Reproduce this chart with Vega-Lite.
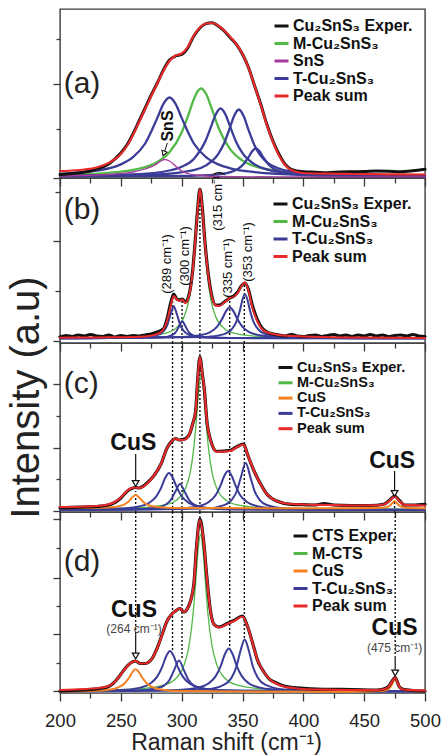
{
"$schema": "https://vega.github.io/schema/vega-lite/v6.json",
"bounds": "flush",
"spacing": 0,
"padding": {"left": 5, "top": 8, "right": 0, "bottom": 0},
"config": {
 "font": "Liberation Sans",
 "view": {"stroke": "#3a3a3a", "strokeWidth": 1.4},
 "axis": {"grid": false, "domain": false, "tickColor": "#3a3a3a", "tickWidth": 1.3, "labelFont": "Liberation Sans", "labelColor": "#222", "titleFont": "Liberation Sans", "titleColor": "#222", "titleFontWeight": "normal"},
 "legend": {"orient": "none", "symbolType": "stroke", "symbolStrokeWidth": 3, "symbolSize": 196, "labelFont": "Liberation Sans", "labelFontWeight": "bold", "labelFontSize": 16, "labelColor": "#111", "rowPadding": 0.5, "labelOffset": 3, "padding": 0, "labelLimit": 400},
 "line": {"strokeJoin": "round", "strokeCap": "round"}
},
"datasets": {
"a": [
{"s":"E","k":0,"x":200,"y":3.5},{"s":"E","k":0,"x":210,"y":4.5},{"s":"E","k":0,"x":220,"y":6},{"s":"E","k":0,"x":230,"y":9},{"s":"E","k":0,"x":240,"y":14},{"s":"E","k":0,"x":250,"y":25},{"s":"E","k":0,"x":255,"y":33},{"s":"E","k":0,"x":260,"y":44},{"s":"E","k":0,"x":265,"y":57},{"s":"E","k":0,"x":270,"y":70},{"s":"E","k":0,"x":275,"y":83},{"s":"E","k":0,"x":280,"y":95},{"s":"E","k":0,"x":285,"y":108},{"s":"E","k":0,"x":290,"y":118},{"s":"E","k":0,"x":295,"y":122},{"s":"E","k":0,"x":300,"y":123.5},{"s":"E","k":0,"x":305,"y":130},{"s":"E","k":0,"x":310,"y":142},{"s":"E","k":0,"x":315,"y":150},{"s":"E","k":0,"x":320,"y":154.3},{"s":"E","k":0,"x":325,"y":155.3},{"s":"E","k":0,"x":330,"y":152},{"s":"E","k":0,"x":335,"y":147},{"s":"E","k":0,"x":340,"y":140.3},{"s":"E","k":0,"x":345,"y":133.7},{"s":"E","k":0,"x":350,"y":123.7},{"s":"E","k":0,"x":355,"y":110.3},{"s":"E","k":0,"x":360,"y":92},{"s":"E","k":0,"x":365,"y":73.7},{"s":"E","k":0,"x":370,"y":53.7},{"s":"E","k":0,"x":375,"y":37},{"s":"E","k":0,"x":380,"y":23.7},{"s":"E","k":0,"x":385,"y":13.7},{"s":"E","k":0,"x":390,"y":8.7},{"s":"E","k":0,"x":400,"y":6.3},{"s":"E","k":0,"x":410,"y":5.8},{"s":"E","k":0,"x":420,"y":5.3},{"s":"E","k":0,"x":430,"y":6},{"s":"E","k":0,"x":440,"y":6.3},{"s":"E","k":0,"x":450,"y":6.5},{"s":"E","k":0,"x":460,"y":7},{"s":"E","k":0,"x":470,"y":6.8},{"s":"E","k":0,"x":480,"y":6.3},{"s":"E","k":0,"x":490,"y":7.2},{"s":"E","k":0,"x":500,"y":8.7},
{"s":"P","k":0,"x":200,"y":7},{"s":"P","k":0,"x":210,"y":7.5},{"s":"P","k":0,"x":220,"y":8.5},{"s":"P","k":0,"x":230,"y":10.5},{"s":"P","k":0,"x":240,"y":15},{"s":"P","k":0,"x":250,"y":24},{"s":"P","k":0,"x":255,"y":32},{"s":"P","k":0,"x":260,"y":43},{"s":"P","k":0,"x":265,"y":56},{"s":"P","k":0,"x":270,"y":69},{"s":"P","k":0,"x":275,"y":82},{"s":"P","k":0,"x":280,"y":94.5},{"s":"P","k":0,"x":285,"y":107},{"s":"P","k":0,"x":290,"y":117},{"s":"P","k":0,"x":295,"y":122.5},{"s":"P","k":0,"x":300,"y":124.5},{"s":"P","k":0,"x":305,"y":131},{"s":"P","k":0,"x":310,"y":142.5},{"s":"P","k":0,"x":315,"y":150.5},{"s":"P","k":0,"x":320,"y":154.5},{"s":"P","k":0,"x":325,"y":155},{"s":"P","k":0,"x":330,"y":152.5},{"s":"P","k":0,"x":335,"y":147.5},{"s":"P","k":0,"x":340,"y":141},{"s":"P","k":0,"x":345,"y":134},{"s":"P","k":0,"x":350,"y":124},{"s":"P","k":0,"x":355,"y":110},{"s":"P","k":0,"x":360,"y":92},{"s":"P","k":0,"x":365,"y":73},{"s":"P","k":0,"x":370,"y":53},{"s":"P","k":0,"x":375,"y":36},{"s":"P","k":0,"x":380,"y":22.5},{"s":"P","k":0,"x":385,"y":13},{"s":"P","k":0,"x":390,"y":8},{"s":"P","k":0,"x":400,"y":5},{"s":"P","k":0,"x":420,"y":4.3},{"s":"P","k":0,"x":440,"y":4},{"s":"P","k":0,"x":460,"y":3.8},{"s":"P","k":0,"x":480,"y":3.6},{"s":"P","k":0,"x":500,"y":3.5},
{"s":"M","k":1,"x":200,"y":3.1},{"s":"M","k":1,"x":240,"y":5.2},{"s":"M","k":1,"x":260,"y":8.1},{"s":"M","k":1,"x":280,"y":16},{"s":"M","k":1,"x":290,"y":25.7},{"s":"M","k":1,"x":300,"y":45.5},{"s":"M","k":1,"x":305,"y":61.3},{"s":"M","k":1,"x":310,"y":78.7},{"s":"M","k":1,"x":313,"y":86.5},{"s":"M","k":1,"x":316,"y":89.5},{"s":"M","k":1,"x":320,"y":84.3},{"s":"M","k":1,"x":325,"y":68.4},{"s":"M","k":1,"x":330,"y":51.3},{"s":"M","k":1,"x":340,"y":28.6},{"s":"M","k":1,"x":350,"y":17.4},{"s":"M","k":1,"x":360,"y":11.8},{"s":"M","k":1,"x":380,"y":6.7},{"s":"M","k":1,"x":400,"y":4.6},{"s":"M","k":1,"x":450,"y":2.7},{"s":"M","k":1,"x":500,"y":2.2},
{"s":"T","k":1,"x":200,"y":4.2},{"s":"T","k":1,"x":230,"y":7.3},{"s":"T","k":1,"x":250,"y":13.6},{"s":"T","k":1,"x":260,"y":20.8},{"s":"T","k":1,"x":270,"y":34.5},{"s":"T","k":1,"x":280,"y":60.1},{"s":"T","k":1,"x":285,"y":74.2},{"s":"T","k":1,"x":290,"y":80.5},{"s":"T","k":1,"x":295,"y":74.2},{"s":"T","k":1,"x":300,"y":60.1},{"s":"T","k":1,"x":310,"y":34.5},{"s":"T","k":1,"x":320,"y":20.8},{"s":"T","k":1,"x":330,"y":13.6},{"s":"T","k":1,"x":340,"y":9.7},{"s":"T","k":1,"x":360,"y":5.9},{"s":"T","k":1,"x":400,"y":3.3},{"s":"T","k":1,"x":500,"y":2},
{"s":"T","k":2,"x":200,"y":2.2},{"s":"T","k":2,"x":260,"y":3.6},{"s":"T","k":2,"x":290,"y":7.5},{"s":"T","k":2,"x":300,"y":11.2},{"s":"T","k":2,"x":310,"y":19.1},{"s":"T","k":2,"x":320,"y":38.2},{"s":"T","k":2,"x":325,"y":54.2},{"s":"T","k":2,"x":328,"y":63.5},{"s":"T","k":2,"x":332,"y":69.5},{"s":"T","k":2,"x":336,"y":63.5},{"s":"T","k":2,"x":340,"y":50.8},{"s":"T","k":2,"x":345,"y":35.5},{"s":"T","k":2,"x":350,"y":24.8},{"s":"T","k":2,"x":360,"y":13.6},{"s":"T","k":2,"x":370,"y":8.6},{"s":"T","k":2,"x":390,"y":4.7},{"s":"T","k":2,"x":430,"y":2.7},{"s":"T","k":2,"x":500,"y":1.9},
{"s":"T","k":3,"x":200,"y":2},{"s":"T","k":3,"x":280,"y":3.6},{"s":"T","k":3,"x":310,"y":7.8},{"s":"T","k":3,"x":320,"y":12.6},{"s":"T","k":3,"x":330,"y":23.8},{"s":"T","k":3,"x":335,"y":35},{"s":"T","k":3,"x":340,"y":51.5},{"s":"T","k":3,"x":343,"y":61.8},{"s":"T","k":3,"x":347,"y":68.5},{"s":"T","k":3,"x":351,"y":61.8},{"s":"T","k":3,"x":355,"y":47.9},{"s":"T","k":3,"x":360,"y":32.3},{"s":"T","k":3,"x":365,"y":22.1},{"s":"T","k":3,"x":370,"y":15.8},{"s":"T","k":3,"x":380,"y":9.3},{"s":"T","k":3,"x":400,"y":4.8},{"s":"T","k":3,"x":440,"y":2.6},{"s":"T","k":3,"x":500,"y":1.9},
{"s":"T","k":4,"x":200,"y":1.6},{"s":"T","k":4,"x":300,"y":2.1},{"s":"T","k":4,"x":330,"y":3.7},{"s":"T","k":4,"x":340,"y":5.8},{"s":"T","k":4,"x":350,"y":12.7},{"s":"T","k":4,"x":355,"y":20.9},{"s":"T","k":4,"x":358,"y":26.7},{"s":"T","k":4,"x":361,"y":29.5},{"s":"T","k":4,"x":364,"y":26.7},{"s":"T","k":4,"x":367,"y":20.9},{"s":"T","k":4,"x":372,"y":12.7},{"s":"T","k":4,"x":380,"y":6.6},{"s":"T","k":4,"x":392,"y":3.7},{"s":"T","k":4,"x":420,"y":2.1},{"s":"T","k":4,"x":500,"y":1.6},
{"s":"S","k":1,"x":200,"y":2},{"s":"S","k":1,"x":230,"y":3},{"s":"S","k":1,"x":250,"y":4.5},{"s":"S","k":1,"x":260,"y":6},{"s":"S","k":1,"x":270,"y":9},{"s":"S","k":1,"x":278,"y":13},{"s":"S","k":1,"x":283,"y":17},{"s":"S","k":1,"x":286,"y":18.5},{"s":"S","k":1,"x":290,"y":17},{"s":"S","k":1,"x":295,"y":12},{"s":"S","k":1,"x":300,"y":7},{"s":"S","k":1,"x":305,"y":4.5},{"s":"S","k":1,"x":315,"y":2.5},{"s":"S","k":1,"x":330,"y":1.5},{"s":"S","k":1,"x":400,"y":1},{"s":"S","k":1,"x":500,"y":1}
],
"b": [
{"s":"E","k":0,"x":200,"y":6},{"s":"E","k":0,"x":205,"y":7.5},{"s":"E","k":0,"x":210,"y":6.5},{"s":"E","k":0,"x":215,"y":8},{"s":"E","k":0,"x":220,"y":7},{"s":"E","k":0,"x":225,"y":8.5},{"s":"E","k":0,"x":230,"y":7},{"s":"E","k":0,"x":235,"y":6.5},{"s":"E","k":0,"x":240,"y":8},{"s":"E","k":0,"x":245,"y":6},{"s":"E","k":0,"x":250,"y":7.5},{"s":"E","k":0,"x":255,"y":6.5},{"s":"E","k":0,"x":260,"y":7.5},{"s":"E","k":0,"x":265,"y":7},{"s":"E","k":0,"x":270,"y":8},{"s":"E","k":0,"x":275,"y":9},{"s":"E","k":0,"x":280,"y":11},{"s":"E","k":0,"x":285,"y":14},{"s":"E","k":0,"x":288,"y":24},{"s":"E","k":0,"x":291,"y":40},{"s":"E","k":0,"x":293.5,"y":49},{"s":"E","k":0,"x":296,"y":44},{"s":"E","k":0,"x":298,"y":43},{"s":"E","k":0,"x":300.5,"y":44},{"s":"E","k":0,"x":303,"y":41},{"s":"E","k":0,"x":306,"y":48},{"s":"E","k":0,"x":309,"y":72},{"s":"E","k":0,"x":311,"y":100},{"s":"E","k":0,"x":313,"y":132},{"s":"E","k":0,"x":315,"y":154},{"s":"E","k":0,"x":317,"y":135},{"s":"E","k":0,"x":319,"y":103},{"s":"E","k":0,"x":321,"y":78},{"s":"E","k":0,"x":324,"y":52},{"s":"E","k":0,"x":328,"y":38},{"s":"E","k":0,"x":331,"y":38},{"s":"E","k":0,"x":335,"y":41},{"s":"E","k":0,"x":339.5,"y":45},{"s":"E","k":0,"x":343,"y":47},{"s":"E","k":0,"x":346,"y":51},{"s":"E","k":0,"x":349,"y":57},{"s":"E","k":0,"x":352,"y":60},{"s":"E","k":0,"x":355,"y":53},{"s":"E","k":0,"x":358,"y":38},{"s":"E","k":0,"x":362,"y":24},{"s":"E","k":0,"x":366,"y":15},{"s":"E","k":0,"x":372,"y":10},{"s":"E","k":0,"x":380,"y":8},{"s":"E","k":0,"x":385,"y":7},{"s":"E","k":0,"x":390,"y":8.5},{"s":"E","k":0,"x":395,"y":7},{"s":"E","k":0,"x":400,"y":6.5},{"s":"E","k":0,"x":405,"y":7.5},{"s":"E","k":0,"x":410,"y":8},{"s":"E","k":0,"x":415,"y":6.5},{"s":"E","k":0,"x":420,"y":7.5},{"s":"E","k":0,"x":425,"y":8.5},{"s":"E","k":0,"x":430,"y":7},{"s":"E","k":0,"x":435,"y":8},{"s":"E","k":0,"x":440,"y":6.5},{"s":"E","k":0,"x":445,"y":8},{"s":"E","k":0,"x":450,"y":7},{"s":"E","k":0,"x":455,"y":8.5},{"s":"E","k":0,"x":460,"y":7},{"s":"E","k":0,"x":465,"y":8},{"s":"E","k":0,"x":470,"y":6.5},{"s":"E","k":0,"x":475,"y":7.5},{"s":"E","k":0,"x":480,"y":8},{"s":"E","k":0,"x":485,"y":7},{"s":"E","k":0,"x":490,"y":8.5},{"s":"E","k":0,"x":495,"y":7},{"s":"E","k":0,"x":500,"y":6.5},
{"s":"P","k":0,"x":200,"y":5.3},{"s":"P","k":0,"x":220,"y":5.5},{"s":"P","k":0,"x":240,"y":5.7},{"s":"P","k":0,"x":260,"y":6},{"s":"P","k":0,"x":270,"y":6.5},{"s":"P","k":0,"x":280,"y":9},{"s":"P","k":0,"x":285,"y":13.5},{"s":"P","k":0,"x":288,"y":22},{"s":"P","k":0,"x":291,"y":37},{"s":"P","k":0,"x":293.5,"y":47},{"s":"P","k":0,"x":296,"y":43.5},{"s":"P","k":0,"x":298,"y":42},{"s":"P","k":0,"x":300.5,"y":43.5},{"s":"P","k":0,"x":303,"y":40},{"s":"P","k":0,"x":306,"y":47},{"s":"P","k":0,"x":309,"y":71},{"s":"P","k":0,"x":311,"y":99},{"s":"P","k":0,"x":313,"y":131},{"s":"P","k":0,"x":315,"y":154},{"s":"P","k":0,"x":317,"y":134},{"s":"P","k":0,"x":319,"y":102},{"s":"P","k":0,"x":321,"y":77},{"s":"P","k":0,"x":324,"y":51},{"s":"P","k":0,"x":328,"y":37.5},{"s":"P","k":0,"x":331,"y":37},{"s":"P","k":0,"x":335,"y":40.5},{"s":"P","k":0,"x":339.5,"y":45},{"s":"P","k":0,"x":343,"y":46.5},{"s":"P","k":0,"x":346,"y":50},{"s":"P","k":0,"x":349,"y":56.5},{"s":"P","k":0,"x":352,"y":60.5},{"s":"P","k":0,"x":355,"y":52},{"s":"P","k":0,"x":358,"y":36},{"s":"P","k":0,"x":362,"y":22},{"s":"P","k":0,"x":366,"y":14},{"s":"P","k":0,"x":372,"y":10},{"s":"P","k":0,"x":380,"y":8},{"s":"P","k":0,"x":400,"y":6.5},{"s":"P","k":0,"x":440,"y":5.5},{"s":"P","k":0,"x":500,"y":5},
{"s":"M","k":1,"x":200,"y":5},{"s":"M","k":1,"x":250,"y":5.7},{"s":"M","k":1,"x":270,"y":6.8},{"s":"M","k":1,"x":285,"y":9.3},{"s":"M","k":1,"x":295,"y":14.6},{"s":"M","k":1,"x":302,"y":26.3},{"s":"M","k":1,"x":306,"y":43.2},{"s":"M","k":1,"x":309,"y":69.6},{"s":"M","k":1,"x":311,"y":97.6},{"s":"M","k":1,"x":313,"y":130.1},{"s":"M","k":1,"x":315,"y":146.7},{"s":"M","k":1,"x":317,"y":130.1},{"s":"M","k":1,"x":319,"y":97.6},{"s":"M","k":1,"x":321,"y":69.6},{"s":"M","k":1,"x":324,"y":43.2},{"s":"M","k":1,"x":328,"y":26.3},{"s":"M","k":1,"x":335,"y":14.6},{"s":"M","k":1,"x":345,"y":9.3},{"s":"M","k":1,"x":360,"y":6.8},{"s":"M","k":1,"x":380,"y":5.7},{"s":"M","k":1,"x":430,"y":5},{"s":"M","k":1,"x":500,"y":4.8},
{"s":"T","k":1,"x":200,"y":4.7},{"s":"T","k":1,"x":270,"y":5.8},{"s":"T","k":1,"x":280,"y":7.9},{"s":"T","k":1,"x":285,"y":11.7},{"s":"T","k":1,"x":288,"y":17.5},{"s":"T","k":1,"x":291,"y":29},{"s":"T","k":1,"x":293.5,"y":36.7},{"s":"T","k":1,"x":296,"y":29},{"s":"T","k":1,"x":299,"y":17.5},{"s":"T","k":1,"x":302,"y":11.7},{"s":"T","k":1,"x":307,"y":7.9},{"s":"T","k":1,"x":317,"y":5.8},{"s":"T","k":1,"x":340,"y":5},{"s":"T","k":1,"x":500,"y":4.7},
{"s":"T","k":2,"x":200,"y":4.7},{"s":"T","k":2,"x":285,"y":5.7},{"s":"T","k":2,"x":292,"y":7.8},{"s":"T","k":2,"x":295,"y":10.6},{"s":"T","k":2,"x":298,"y":16.9},{"s":"T","k":2,"x":300.5,"y":21.7},{"s":"T","k":2,"x":303,"y":16.9},{"s":"T","k":2,"x":306,"y":10.6},{"s":"T","k":2,"x":309,"y":7.8},{"s":"T","k":2,"x":316,"y":5.7},{"s":"T","k":2,"x":340,"y":4.9},{"s":"T","k":2,"x":500,"y":4.7},
{"s":"T","k":3,"x":200,"y":4.8},{"s":"T","k":3,"x":300,"y":5.9},{"s":"T","k":3,"x":315,"y":7.7},{"s":"T","k":3,"x":323,"y":10.6},{"s":"T","k":3,"x":329,"y":16.1},{"s":"T","k":3,"x":333,"y":23.4},{"s":"T","k":3,"x":336.5,"y":31.9},{"s":"T","k":3,"x":339.5,"y":35.7},{"s":"T","k":3,"x":342.5,"y":31.9},{"s":"T","k":3,"x":346,"y":23.4},{"s":"T","k":3,"x":350,"y":16.1},{"s":"T","k":3,"x":356,"y":10.6},{"s":"T","k":3,"x":364,"y":7.7},{"s":"T","k":3,"x":380,"y":5.9},{"s":"T","k":3,"x":420,"y":5},{"s":"T","k":3,"x":500,"y":4.8},
{"s":"T","k":4,"x":200,"y":4.7},{"s":"T","k":4,"x":320,"y":6},{"s":"T","k":4,"x":335,"y":8.9},{"s":"T","k":4,"x":341,"y":13.5},{"s":"T","k":4,"x":345,"y":21.4},{"s":"T","k":4,"x":348,"y":33.3},{"s":"T","k":4,"x":350,"y":43.5},{"s":"T","k":4,"x":352,"y":48.7},{"s":"T","k":4,"x":354,"y":43.5},{"s":"T","k":4,"x":356,"y":33.3},{"s":"T","k":4,"x":359,"y":21.4},{"s":"T","k":4,"x":363,"y":13.5},{"s":"T","k":4,"x":369,"y":8.9},{"s":"T","k":4,"x":384,"y":6},{"s":"T","k":4,"x":420,"y":5},{"s":"T","k":4,"x":500,"y":4.7}
],
"c": [
{"s":"E","k":0,"x":200,"y":4.3},{"s":"E","k":0,"x":210,"y":4.6},{"s":"E","k":0,"x":220,"y":5},{"s":"E","k":0,"x":230,"y":5.5},{"s":"E","k":0,"x":240,"y":7},{"s":"E","k":0,"x":245,"y":9.5},{"s":"E","k":0,"x":250,"y":14},{"s":"E","k":0,"x":253,"y":18},{"s":"E","k":0,"x":256,"y":21.5},{"s":"E","k":0,"x":259,"y":23.5},{"s":"E","k":0,"x":262,"y":24.5},{"s":"E","k":0,"x":265,"y":24},{"s":"E","k":0,"x":268,"y":25.5},{"s":"E","k":0,"x":272,"y":29.5},{"s":"E","k":0,"x":277,"y":36},{"s":"E","k":0,"x":283,"y":48},{"s":"E","k":0,"x":288,"y":64},{"s":"E","k":0,"x":292,"y":71},{"s":"E","k":0,"x":295,"y":73.5},{"s":"E","k":0,"x":298,"y":72},{"s":"E","k":0,"x":301,"y":72.5},{"s":"E","k":0,"x":304,"y":74},{"s":"E","k":0,"x":306.5,"y":78},{"s":"E","k":0,"x":309,"y":88},{"s":"E","k":0,"x":311.5,"y":101},{"s":"E","k":0,"x":313,"y":130},{"s":"E","k":0,"x":315,"y":155},{"s":"E","k":0,"x":317,"y":138},{"s":"E","k":0,"x":318.5,"y":124},{"s":"E","k":0,"x":321,"y":88},{"s":"E","k":0,"x":324,"y":71},{"s":"E","k":0,"x":326.5,"y":63},{"s":"E","k":0,"x":329,"y":60.5},{"s":"E","k":0,"x":335,"y":61},{"s":"E","k":0,"x":340,"y":61.7},{"s":"E","k":0,"x":345,"y":65},{"s":"E","k":0,"x":351,"y":68},{"s":"E","k":0,"x":354,"y":58},{"s":"E","k":0,"x":359.5,"y":41},{"s":"E","k":0,"x":365,"y":27.7},{"s":"E","k":0,"x":370,"y":18},{"s":"E","k":0,"x":378,"y":11},{"s":"E","k":0,"x":390,"y":7.7},{"s":"E","k":0,"x":400,"y":7.3},{"s":"E","k":0,"x":410,"y":7},{"s":"E","k":0,"x":417,"y":8.5},{"s":"E","k":0,"x":425,"y":7},{"s":"E","k":0,"x":440,"y":6.5},{"s":"E","k":0,"x":455,"y":6.5},{"s":"E","k":0,"x":466,"y":7.7},{"s":"E","k":0,"x":471,"y":12},{"s":"E","k":0,"x":475,"y":16},{"s":"E","k":0,"x":479,"y":11.5},{"s":"E","k":0,"x":483,"y":7},{"s":"E","k":0,"x":490,"y":7},{"s":"E","k":0,"x":500,"y":7.7},
{"s":"P","k":0,"x":200,"y":5},{"s":"P","k":0,"x":220,"y":5.5},{"s":"P","k":0,"x":235,"y":6.5},{"s":"P","k":0,"x":245,"y":10},{"s":"P","k":0,"x":250,"y":14.5},{"s":"P","k":0,"x":253,"y":18.5},{"s":"P","k":0,"x":256,"y":22},{"s":"P","k":0,"x":259,"y":24},{"s":"P","k":0,"x":262,"y":24.5},{"s":"P","k":0,"x":265,"y":24},{"s":"P","k":0,"x":268,"y":25},{"s":"P","k":0,"x":272,"y":29},{"s":"P","k":0,"x":277,"y":36},{"s":"P","k":0,"x":283,"y":48},{"s":"P","k":0,"x":288,"y":64},{"s":"P","k":0,"x":292,"y":71},{"s":"P","k":0,"x":295,"y":73.5},{"s":"P","k":0,"x":298,"y":72},{"s":"P","k":0,"x":301,"y":72},{"s":"P","k":0,"x":304,"y":73.5},{"s":"P","k":0,"x":306.5,"y":78},{"s":"P","k":0,"x":309,"y":88},{"s":"P","k":0,"x":311.5,"y":101},{"s":"P","k":0,"x":313,"y":130},{"s":"P","k":0,"x":315,"y":155},{"s":"P","k":0,"x":317,"y":138},{"s":"P","k":0,"x":318.5,"y":124},{"s":"P","k":0,"x":321,"y":88},{"s":"P","k":0,"x":324,"y":71},{"s":"P","k":0,"x":326.5,"y":63},{"s":"P","k":0,"x":329,"y":60},{"s":"P","k":0,"x":335,"y":60.5},{"s":"P","k":0,"x":340,"y":61},{"s":"P","k":0,"x":345,"y":64.5},{"s":"P","k":0,"x":351,"y":67.5},{"s":"P","k":0,"x":354,"y":58},{"s":"P","k":0,"x":359.5,"y":41},{"s":"P","k":0,"x":365,"y":27.5},{"s":"P","k":0,"x":370,"y":18},{"s":"P","k":0,"x":378,"y":11},{"s":"P","k":0,"x":390,"y":8},{"s":"P","k":0,"x":400,"y":7.5},{"s":"P","k":0,"x":420,"y":7},{"s":"P","k":0,"x":440,"y":6.5},{"s":"P","k":0,"x":460,"y":6.7},{"s":"P","k":0,"x":466,"y":7.5},{"s":"P","k":0,"x":471,"y":11.5},{"s":"P","k":0,"x":475,"y":15.5},{"s":"P","k":0,"x":479,"y":11},{"s":"P","k":0,"x":483,"y":7.2},{"s":"P","k":0,"x":490,"y":6.8},{"s":"P","k":0,"x":500,"y":6.5},
{"s":"M","k":1,"x":200,"y":3},{"s":"M","k":1,"x":250,"y":3.6},{"s":"M","k":1,"x":270,"y":4.6},{"s":"M","k":1,"x":285,"y":6.8},{"s":"M","k":1,"x":295,"y":11.3},{"s":"M","k":1,"x":303,"y":23.2},{"s":"M","k":1,"x":307,"y":39.3},{"s":"M","k":1,"x":310,"y":64.4},{"s":"M","k":1,"x":312,"y":91},{"s":"M","k":1,"x":314,"y":121.9},{"s":"M","k":1,"x":316,"y":137.7},{"s":"M","k":1,"x":318,"y":121.9},{"s":"M","k":1,"x":320,"y":91},{"s":"M","k":1,"x":322,"y":64.4},{"s":"M","k":1,"x":325,"y":39.3},{"s":"M","k":1,"x":329,"y":23.2},{"s":"M","k":1,"x":337,"y":11.3},{"s":"M","k":1,"x":347,"y":6.8},{"s":"M","k":1,"x":362,"y":4.6},{"s":"M","k":1,"x":382,"y":3.6},{"s":"M","k":1,"x":430,"y":3},{"s":"M","k":1,"x":500,"y":2.9},
{"s":"T","k":1,"x":200,"y":2.3},{"s":"T","k":1,"x":250,"y":3.4},{"s":"T","k":1,"x":265,"y":5.5},{"s":"T","k":1,"x":273,"y":9},{"s":"T","k":1,"x":279,"y":15.3},{"s":"T","k":1,"x":283,"y":23.9},{"s":"T","k":1,"x":286.6,"y":34.4},{"s":"T","k":1,"x":289.6,"y":39},{"s":"T","k":1,"x":292.6,"y":34.4},{"s":"T","k":1,"x":296,"y":24.6},{"s":"T","k":1,"x":300,"y":15.8},{"s":"T","k":1,"x":306,"y":9.1},{"s":"T","k":1,"x":314,"y":5.6},{"s":"T","k":1,"x":330,"y":3.4},{"s":"T","k":1,"x":380,"y":2.4},{"s":"T","k":1,"x":500,"y":2.1},
{"s":"T","k":2,"x":200,"y":2.1},{"s":"T","k":2,"x":260,"y":2.6},{"s":"T","k":2,"x":280,"y":4.4},{"s":"T","k":2,"x":287,"y":7.5},{"s":"T","k":2,"x":291,"y":12},{"s":"T","k":2,"x":294.5,"y":19.7},{"s":"T","k":2,"x":298.6,"y":28},{"s":"T","k":2,"x":302.7,"y":19.7},{"s":"T","k":2,"x":306,"y":12.3},{"s":"T","k":2,"x":310,"y":7.6},{"s":"T","k":2,"x":318,"y":4.3},{"s":"T","k":2,"x":340,"y":2.5},{"s":"T","k":2,"x":500,"y":2},
{"s":"T","k":3,"x":200,"y":2.1},{"s":"T","k":3,"x":290,"y":3.1},{"s":"T","k":3,"x":305,"y":4.1},{"s":"T","k":3,"x":314,"y":5.9},{"s":"T","k":3,"x":322,"y":9.7},{"s":"T","k":3,"x":328,"y":17},{"s":"T","k":3,"x":332,"y":26.7},{"s":"T","k":3,"x":335.1,"y":36.2},{"s":"T","k":3,"x":338.1,"y":41},{"s":"T","k":3,"x":341.1,"y":36.2},{"s":"T","k":3,"x":344.2,"y":26.7},{"s":"T","k":3,"x":348,"y":17},{"s":"T","k":3,"x":354,"y":9.7},{"s":"T","k":3,"x":362,"y":5.9},{"s":"T","k":3,"x":375,"y":3.8},{"s":"T","k":3,"x":400,"y":2.6},{"s":"T","k":3,"x":500,"y":2.1},
{"s":"T","k":4,"x":200,"y":2},{"s":"T","k":4,"x":320,"y":3.5},{"s":"T","k":4,"x":335,"y":6.9},{"s":"T","k":4,"x":341,"y":11.9},{"s":"T","k":4,"x":345,"y":20},{"s":"T","k":4,"x":348.5,"y":34},{"s":"T","k":4,"x":352.6,"y":49},{"s":"T","k":4,"x":356.7,"y":34},{"s":"T","k":4,"x":360,"y":20.7},{"s":"T","k":4,"x":364,"y":12.2},{"s":"T","k":4,"x":370,"y":7},{"s":"T","k":4,"x":385,"y":3.5},{"s":"T","k":4,"x":420,"y":2.4},{"s":"T","k":4,"x":500,"y":2},
{"s":"C","k":1,"x":200,"y":3.8},{"s":"C","k":1,"x":230,"y":4.2},{"s":"C","k":1,"x":245,"y":5.1},{"s":"C","k":1,"x":252,"y":7.1},{"s":"C","k":1,"x":256,"y":10.1},{"s":"C","k":1,"x":259.5,"y":14.7},{"s":"C","k":1,"x":262.2,"y":17},{"s":"C","k":1,"x":265,"y":14.6},{"s":"C","k":1,"x":268.5,"y":10},{"s":"C","k":1,"x":273,"y":6.8},{"s":"C","k":1,"x":280,"y":5.1},{"s":"C","k":1,"x":295,"y":4.1},{"s":"C","k":1,"x":330,"y":3.9},{"s":"C","k":1,"x":400,"y":3.7},{"s":"C","k":1,"x":460,"y":4},{"s":"C","k":1,"x":468,"y":4.8},{"s":"C","k":1,"x":471,"y":6.3},{"s":"C","k":1,"x":473,"y":8.7},{"s":"C","k":1,"x":475,"y":11},{"s":"C","k":1,"x":477,"y":8.7},{"s":"C","k":1,"x":479,"y":6.3},{"s":"C","k":1,"x":482,"y":4.8},{"s":"C","k":1,"x":490,"y":4},{"s":"C","k":1,"x":500,"y":3.8}
],
"d": [
{"s":"E","k":0,"x":200,"y":2},{"s":"E","k":0,"x":220,"y":3},{"s":"E","k":0,"x":235,"y":5},{"s":"E","k":0,"x":240,"y":6.5},{"s":"E","k":0,"x":244,"y":10},{"s":"E","k":0,"x":247,"y":14},{"s":"E","k":0,"x":250,"y":18.7},{"s":"E","k":0,"x":254,"y":25.3},{"s":"E","k":0,"x":258,"y":30},{"s":"E","k":0,"x":262,"y":32},{"s":"E","k":0,"x":266,"y":29.5},{"s":"E","k":0,"x":270,"y":29.5},{"s":"E","k":0,"x":273,"y":31},{"s":"E","k":0,"x":276,"y":35},{"s":"E","k":0,"x":280,"y":45.3},{"s":"E","k":0,"x":284,"y":58.7},{"s":"E","k":0,"x":288,"y":72},{"s":"E","k":0,"x":292,"y":79},{"s":"E","k":0,"x":295,"y":82},{"s":"E","k":0,"x":298.5,"y":84.5},{"s":"E","k":0,"x":302,"y":81},{"s":"E","k":0,"x":305,"y":85},{"s":"E","k":0,"x":307.5,"y":93},{"s":"E","k":0,"x":310,"y":109},{"s":"E","k":0,"x":312.3,"y":148},{"s":"E","k":0,"x":315,"y":174},{"s":"E","k":0,"x":317.8,"y":155},{"s":"E","k":0,"x":320.5,"y":118.7},{"s":"E","k":0,"x":323.3,"y":85.3},{"s":"E","k":0,"x":326.6,"y":68.7},{"s":"E","k":0,"x":330.7,"y":66},{"s":"E","k":0,"x":337.5,"y":69.5},{"s":"E","k":0,"x":343,"y":72.5},{"s":"E","k":0,"x":350,"y":77},{"s":"E","k":0,"x":354,"y":67},{"s":"E","k":0,"x":359.4,"y":45.3},{"s":"E","k":0,"x":362,"y":34},{"s":"E","k":0,"x":367.6,"y":21},{"s":"E","k":0,"x":373,"y":13},{"s":"E","k":0,"x":376,"y":11},{"s":"E","k":0,"x":384,"y":7},{"s":"E","k":0,"x":392,"y":5.3},{"s":"E","k":0,"x":400,"y":4.7},{"s":"E","k":0,"x":420,"y":3.7},{"s":"E","k":0,"x":440,"y":3.5},{"s":"E","k":0,"x":460,"y":3},{"s":"E","k":0,"x":466,"y":4},{"s":"E","k":0,"x":470,"y":6.5},{"s":"E","k":0,"x":475.5,"y":15.5},{"s":"E","k":0,"x":479,"y":6},{"s":"E","k":0,"x":482,"y":3.7},{"s":"E","k":0,"x":490,"y":2.5},{"s":"E","k":0,"x":500,"y":2},
{"s":"P","k":0,"x":200,"y":3},{"s":"P","k":0,"x":220,"y":4},{"s":"P","k":0,"x":235,"y":5.5},{"s":"P","k":0,"x":240,"y":7},{"s":"P","k":0,"x":244,"y":10},{"s":"P","k":0,"x":247,"y":14},{"s":"P","k":0,"x":250,"y":18.5},{"s":"P","k":0,"x":254,"y":25},{"s":"P","k":0,"x":258,"y":30},{"s":"P","k":0,"x":262,"y":32},{"s":"P","k":0,"x":266,"y":29.5},{"s":"P","k":0,"x":270,"y":29.5},{"s":"P","k":0,"x":273,"y":31},{"s":"P","k":0,"x":276,"y":35},{"s":"P","k":0,"x":280,"y":45},{"s":"P","k":0,"x":284,"y":58.5},{"s":"P","k":0,"x":288,"y":72},{"s":"P","k":0,"x":292,"y":79},{"s":"P","k":0,"x":295,"y":82},{"s":"P","k":0,"x":298.5,"y":84.5},{"s":"P","k":0,"x":302,"y":81},{"s":"P","k":0,"x":305,"y":85},{"s":"P","k":0,"x":307.5,"y":93},{"s":"P","k":0,"x":310,"y":109},{"s":"P","k":0,"x":312.3,"y":148},{"s":"P","k":0,"x":315,"y":173},{"s":"P","k":0,"x":317.8,"y":155},{"s":"P","k":0,"x":320.5,"y":118.5},{"s":"P","k":0,"x":323.3,"y":85},{"s":"P","k":0,"x":326.6,"y":68.5},{"s":"P","k":0,"x":330.7,"y":65.5},{"s":"P","k":0,"x":337.5,"y":69},{"s":"P","k":0,"x":343,"y":72},{"s":"P","k":0,"x":350,"y":76.5},{"s":"P","k":0,"x":354,"y":67},{"s":"P","k":0,"x":359.4,"y":45},{"s":"P","k":0,"x":362,"y":34},{"s":"P","k":0,"x":367.6,"y":21},{"s":"P","k":0,"x":373,"y":13},{"s":"P","k":0,"x":376,"y":10.5},{"s":"P","k":0,"x":384,"y":6.5},{"s":"P","k":0,"x":392,"y":5},{"s":"P","k":0,"x":400,"y":4},{"s":"P","k":0,"x":420,"y":3.3},{"s":"P","k":0,"x":440,"y":3},{"s":"P","k":0,"x":460,"y":3},{"s":"P","k":0,"x":466,"y":3.8},{"s":"P","k":0,"x":470,"y":6},{"s":"P","k":0,"x":475.5,"y":15},{"s":"P","k":0,"x":479,"y":6},{"s":"P","k":0,"x":482,"y":3.5},{"s":"P","k":0,"x":490,"y":2.8},{"s":"P","k":0,"x":500,"y":2.5},
{"s":"M","k":1,"x":200,"y":2.4},{"s":"M","k":1,"x":250,"y":3.3},{"s":"M","k":1,"x":270,"y":4.7},{"s":"M","k":1,"x":285,"y":7.8},{"s":"M","k":1,"x":295,"y":14.3},{"s":"M","k":1,"x":302,"y":27.9},{"s":"M","k":1,"x":306,"y":46.8},{"s":"M","k":1,"x":309.5,"y":80.4},{"s":"M","k":1,"x":311.5,"y":110.5},{"s":"M","k":1,"x":313.5,"y":143},{"s":"M","k":1,"x":315.5,"y":158.7},{"s":"M","k":1,"x":317.5,"y":143},{"s":"M","k":1,"x":319.5,"y":110.5},{"s":"M","k":1,"x":321.5,"y":80.4},{"s":"M","k":1,"x":325,"y":46.8},{"s":"M","k":1,"x":329,"y":27.9},{"s":"M","k":1,"x":336,"y":14.3},{"s":"M","k":1,"x":346,"y":7.8},{"s":"M","k":1,"x":361,"y":4.7},{"s":"M","k":1,"x":381,"y":3.3},{"s":"M","k":1,"x":430,"y":2.4},{"s":"M","k":1,"x":500,"y":2.2},
{"s":"T","k":1,"x":200,"y":2},{"s":"T","k":1,"x":250,"y":3},{"s":"T","k":1,"x":265,"y":5.1},{"s":"T","k":1,"x":274,"y":9.3},{"s":"T","k":1,"x":280,"y":16.6},{"s":"T","k":1,"x":284,"y":26.2},{"s":"T","k":1,"x":287.4,"y":37},{"s":"T","k":1,"x":290.4,"y":42},{"s":"T","k":1,"x":293.4,"y":37},{"s":"T","k":1,"x":296.8,"y":26.2},{"s":"T","k":1,"x":300.8,"y":16.6},{"s":"T","k":1,"x":306.8,"y":9.3},{"s":"T","k":1,"x":315.8,"y":5.1},{"s":"T","k":1,"x":330,"y":3},{"s":"T","k":1,"x":380,"y":2},{"s":"T","k":1,"x":500,"y":1.7},
{"s":"T","k":2,"x":200,"y":1.6},{"s":"T","k":2,"x":260,"y":2.2},{"s":"T","k":2,"x":280,"y":4.7},{"s":"T","k":2,"x":286,"y":7.9},{"s":"T","k":2,"x":290,"y":13},{"s":"T","k":2,"x":293.7,"y":22.6},{"s":"T","k":2,"x":297.8,"y":32.5},{"s":"T","k":2,"x":301.9,"y":22.6},{"s":"T","k":2,"x":305.6,"y":13},{"s":"T","k":2,"x":309.6,"y":7.9},{"s":"T","k":2,"x":315.6,"y":4.7},{"s":"T","k":2,"x":335,"y":2.3},{"s":"T","k":2,"x":500,"y":1.6},
{"s":"T","k":3,"x":200,"y":1.8},{"s":"T","k":3,"x":290,"y":2.6},{"s":"T","k":3,"x":305,"y":3.8},{"s":"T","k":3,"x":314,"y":5.6},{"s":"T","k":3,"x":322,"y":9.5},{"s":"T","k":3,"x":328,"y":16.9},{"s":"T","k":3,"x":332,"y":26.7},{"s":"T","k":3,"x":335.7,"y":39.2},{"s":"T","k":3,"x":338.7,"y":44.5},{"s":"T","k":3,"x":341.7,"y":39.2},{"s":"T","k":3,"x":345.4,"y":26.7},{"s":"T","k":3,"x":349.4,"y":16.9},{"s":"T","k":3,"x":355.4,"y":9.5},{"s":"T","k":3,"x":363.4,"y":5.6},{"s":"T","k":3,"x":376,"y":3.5},{"s":"T","k":3,"x":400,"y":2.4},{"s":"T","k":3,"x":500,"y":1.7},
{"s":"T","k":4,"x":200,"y":1.6},{"s":"T","k":4,"x":320,"y":3.6},{"s":"T","k":4,"x":335,"y":8.3},{"s":"T","k":4,"x":341,"y":15.3},{"s":"T","k":4,"x":345,"y":26.3},{"s":"T","k":4,"x":348.5,"y":42.8},{"s":"T","k":4,"x":351.8,"y":53.5},{"s":"T","k":4,"x":355.1,"y":42.8},{"s":"T","k":4,"x":358.6,"y":26.3},{"s":"T","k":4,"x":362.6,"y":15.3},{"s":"T","k":4,"x":368.6,"y":8.3},{"s":"T","k":4,"x":384,"y":3.5},{"s":"T","k":4,"x":420,"y":2},{"s":"T","k":4,"x":500,"y":1.7},
{"s":"C","k":1,"x":200,"y":1.5},{"s":"C","k":1,"x":225,"y":2},{"s":"C","k":1,"x":240,"y":3.2},{"s":"C","k":1,"x":248,"y":5.6},{"s":"C","k":1,"x":253,"y":9.5},{"s":"C","k":1,"x":257,"y":15.7},{"s":"C","k":1,"x":259.6,"y":21},{"s":"C","k":1,"x":262.2,"y":23.7},{"s":"C","k":1,"x":264.8,"y":21},{"s":"C","k":1,"x":267.4,"y":15.7},{"s":"C","k":1,"x":271.4,"y":9.5},{"s":"C","k":1,"x":276.4,"y":5.6},{"s":"C","k":1,"x":284,"y":3.2},{"s":"C","k":1,"x":300,"y":1.9},{"s":"C","k":1,"x":350,"y":1.4},{"s":"C","k":1,"x":440,"y":1.3},{"s":"C","k":1,"x":466,"y":2.3},{"s":"C","k":1,"x":470,"y":4.1},{"s":"C","k":1,"x":472.5,"y":7.4},{"s":"C","k":1,"x":474.3,"y":12},{"s":"C","k":1,"x":475.5,"y":13.7},{"s":"C","k":1,"x":476.7,"y":12},{"s":"C","k":1,"x":478.5,"y":7.4},{"s":"C","k":1,"x":481,"y":4.1},{"s":"C","k":1,"x":485,"y":2.3},{"s":"C","k":1,"x":500,"y":1.4}
]
},
"vconcat": [
{
 "width": 365, "height": 169,
 "encoding": {
  "x": {"field": "x", "type": "quantitative", "scale": {"domain": [200, 500], "nice": false, "zero": false}, "axis": {"values": [200,225,250,275,300,325,350,375,400,425,450,475,500], "labels": false, "title": null, "tickSize": {"condition": {"test": "datum.value % 50 === 0", "value": 8}, "value": 5}}},
  "y": {"field": "y", "type": "quantitative", "scale": {"domain": [0, 169], "nice": false, "zero": false}, "axis": {"values": [0,49,94,139], "labels": false, "title": null, "tickSize": {"condition": {"test": "datum.value === 0 || datum.value === 94", "value": 7}, "value": 4}}}
 },
 "layer": [
  {"data": {"name": "a"}, "transform": [{"filter": "datum.s !== 'E' && datum.s !== 'P'"}],
   "mark": {"type": "line", "interpolate": "monotone"},
   "encoding": {
    "color": {"field": "s", "type": "nominal", "scale": {"domain": ["E","M","S","T","P"], "range": ["#111111","#52b947","#a6399f","#3b3c97","#e82a2a"]}, "legend": {"orient": "none", "legendX": 213, "legendY": 8.5, "title": null, "labelExpr": "datum.label === 'E' ? 'Cu₂SnS₃ Exper.' : datum.label === 'M' ? 'M-Cu₂SnS₃' : datum.label === 'S' ? 'SnS' : datum.label === 'T' ? 'T-Cu₂SnS₃' : 'Peak sum'"}},
    "detail": {"field": "k"},
    "strokeWidth": {"condition": {"test": "datum.s === 'S'", "value": 1.3}, "value": 2.3}
   }},
  {"data": {"name": "a"}, "transform": [{"filter": "datum.s === 'E'"}],
   "mark": {"type": "line", "interpolate": "monotone", "strokeWidth": 3},
   "encoding": {"color": {"field": "s", "type": "nominal", "scale": {"domain": ["E","M","S","T","P"], "range": ["#111111","#52b947","#a6399f","#3b3c97","#e82a2a"]}, "legend": {"orient": "none", "legendX": 213, "legendY": 8.5, "title": null, "labelExpr": "datum.label === 'E' ? 'Cu₂SnS₃ Exper.' : datum.label === 'M' ? 'M-Cu₂SnS₃' : datum.label === 'S' ? 'SnS' : datum.label === 'T' ? 'T-Cu₂SnS₃' : 'Peak sum'"}}}},
  {"data": {"name": "a"}, "transform": [{"filter": "datum.s === 'P'"}],
   "mark": {"type": "line", "interpolate": "monotone", "strokeWidth": 2.2},
   "encoding": {"color": {"field": "s", "type": "nominal", "scale": {"domain": ["E","M","S","T","P"], "range": ["#111111","#52b947","#a6399f","#3b3c97","#e82a2a"]}, "legend": {"orient": "none", "legendX": 213, "legendY": 8.5, "title": null, "labelExpr": "datum.label === 'E' ? 'Cu₂SnS₃ Exper.' : datum.label === 'M' ? 'M-Cu₂SnS₃' : datum.label === 'S' ? 'SnS' : datum.label === 'T' ? 'T-Cu₂SnS₃' : 'Peak sum'"}}}},
  {"data": {"values": [{"x": 203, "y": 94, "t": "(a)"}]},
   "mark": {"type": "text", "fontSize": 30, "align": "left", "baseline": "middle", "color": "#222"},
   "encoding": {"text": {"field": "t"}}},
  {"data": {"values": [{"x": 288.8, "y": 52, "t": "SnS"}]},
   "mark": {"type": "text", "fontSize": 16, "fontWeight": "bold", "angle": 270, "align": "center", "baseline": "middle", "color": "#111"},
   "encoding": {"text": {"field": "t"}}},
  {"data": {"values": [{"x": 288.2, "y": 35, "x2": 285.6, "y2": 25}]},
   "mark": {"type": "rule", "strokeWidth": 1, "color": "#111"},
   "encoding": {"x2": {"field": "x2"}, "y2": {"field": "y2"}}},
  {"data": {"values": [{"x": 285.3, "y": 24.5}]},
   "mark": {"type": "point", "shape": "triangle-down", "filled": true, "fill": "white", "stroke": "#111", "strokeWidth": 1, "size": 30, "angle": 19, "opacity": 1},
   "encoding": {}}
 ]
},
{
 "width": 365, "height": 165,
 "encoding": {
  "x": {"field": "x", "type": "quantitative", "scale": {"domain": [200, 500], "nice": false, "zero": false}, "axis": {"values": [200,225,250,275,300,325,350,375,400,425,450,475,500], "labels": false, "title": null, "tickSize": {"condition": {"test": "datum.value % 50 === 0", "value": 8}, "value": 5}}},
  "y": {"field": "y", "type": "quantitative", "scale": {"domain": [0, 165], "nice": false, "zero": false}, "axis": {"values": [2,52,102,151], "labels": false, "title": null, "tickSize": {"condition": {"test": "datum.value === 2 || datum.value === 102", "value": 7}, "value": 5}}}
 },
 "layer": [
  {"data": {"values": [{"x": 292.5, "y": 0, "y2": 48}, {"x": 300.3, "y": 0, "y2": 44}, {"x": 315, "y": 0, "y2": 152}, {"x": 339.5, "y": 0, "y2": 44}, {"x": 351.5, "y": 0, "y2": 60}]},
   "mark": {"type": "rule", "strokeDash": [2, 2], "strokeWidth": 1.4, "color": "#111"},
   "encoding": {"y2": {"field": "y2"}}},
  {"data": {"name": "b"}, "transform": [{"filter": "datum.s !== 'E' && datum.s !== 'P'"}],
   "mark": {"type": "line", "interpolate": "monotone"},
   "encoding": {
    "color": {"field": "s", "type": "nominal", "scale": {"domain": ["E","M","T","P"], "range": ["#111111","#52b947","#3b3c97","#e82a2a"]}, "legend": {"orient": "none", "legendX": 212, "legendY": 17.5, "title": null, "labelExpr": "datum.label === 'E' ? 'Cu₂SnS₃ Exper.' : datum.label === 'M' ? 'M-Cu₂SnS₃' : datum.label === 'T' ? 'T-Cu₂SnS₃' : 'Peak sum'"}},
    "detail": {"field": "k"},
    "strokeWidth": {"condition": {"test": "datum.s === 'M'", "value": 1.3}, "value": 2}
   }},
  {"data": {"name": "b"}, "transform": [{"filter": "datum.s === 'E'"}],
   "mark": {"type": "line", "interpolate": "monotone", "strokeWidth": 3.2},
   "encoding": {"color": {"field": "s", "type": "nominal", "scale": {"domain": ["E","M","T","P"], "range": ["#111111","#52b947","#3b3c97","#e82a2a"]}, "legend": {"orient": "none", "legendX": 212, "legendY": 17.5, "title": null, "labelExpr": "datum.label === 'E' ? 'Cu₂SnS₃ Exper.' : datum.label === 'M' ? 'M-Cu₂SnS₃' : datum.label === 'T' ? 'T-Cu₂SnS₃' : 'Peak sum'"}}}},
  {"data": {"name": "b"}, "transform": [{"filter": "datum.s === 'P'"}],
   "mark": {"type": "line", "interpolate": "monotone", "strokeWidth": 2},
   "encoding": {"color": {"field": "s", "type": "nominal", "scale": {"domain": ["E","M","T","P"], "range": ["#111111","#52b947","#3b3c97","#e82a2a"]}, "legend": {"orient": "none", "legendX": 212, "legendY": 17.5, "title": null, "labelExpr": "datum.label === 'E' ? 'Cu₂SnS₃ Exper.' : datum.label === 'M' ? 'M-Cu₂SnS₃' : datum.label === 'T' ? 'T-Cu₂SnS₃' : 'Peak sum'"}}}},
  {"data": {"values": [{"x": 203, "y": 133, "t": "(b)"}]},
   "mark": {"type": "text", "fontSize": 30, "align": "left", "baseline": "middle", "color": "#222"},
   "encoding": {"text": {"field": "t"}}},
  {"data": {"values": [{"x": 288.2, "y": 79, "t": "(289 cm⁻¹)"}, {"x": 302.7, "y": 87, "t": "(300 cm⁻¹)"}, {"x": 329.9, "y": 142, "t": "(315 cm⁻¹)"}, {"x": 338.4, "y": 75, "t": "(335 cm⁻¹)"}, {"x": 354.5, "y": 91, "t": "(353 cm⁻¹)"}]},
   "mark": {"type": "text", "fontSize": 13, "angle": 270, "align": "center", "baseline": "middle", "color": "#111"},
   "encoding": {"text": {"field": "t"}}}
 ]
},
{
 "width": 365, "height": 169,
 "encoding": {
  "x": {"field": "x", "type": "quantitative", "scale": {"domain": [200, 500], "nice": false, "zero": false}, "axis": {"values": [200,225,250,275,300,325,350,375,400,425,450,475,500], "labels": false, "title": null, "tickSize": {"condition": {"test": "datum.value % 50 === 0", "value": 8}, "value": 5}}},
  "y": {"field": "y", "type": "quantitative", "scale": {"domain": [0, 169], "nice": false, "zero": false}, "axis": {"values": [1,33,64,96,128], "labels": false, "title": "Intensity (a.u)", "titleFontSize": 40, "titleX": -22, "titleY": 54, "titleAngle": 270, "titleAlign": "center", "titleBaseline": "alphabetic", "tickSize": {"condition": {"test": "datum.value === 1 || datum.value === 64 || datum.value === 128", "value": 7}, "value": 4}}}
 },
 "layer": [
  {"data": {"values": [{"x": 292.5, "y": 0, "y2": 169}, {"x": 300.3, "y": 0, "y2": 169}, {"x": 315, "y": 0, "y2": 169}, {"x": 339.5, "y": 0, "y2": 169}, {"x": 351.5, "y": 0, "y2": 169}, {"x": 262.2, "y": 0, "y2": 21}, {"x": 475, "y": 0, "y2": 11}]},
   "mark": {"type": "rule", "strokeDash": [2, 2], "strokeWidth": 1.4, "color": "#111"},
   "encoding": {"y2": {"field": "y2"}}},
  {"data": {"name": "c"}, "transform": [{"filter": "datum.s !== 'E' && datum.s !== 'P'"}],
   "mark": {"type": "line", "interpolate": "monotone"},
   "encoding": {
    "color": {"field": "s", "type": "nominal", "scale": {"domain": ["E","M","C","T","P"], "range": ["#111111","#52b947","#f48120","#3b3c97","#e82a2a"]}, "legend": {"orient": "none", "legendX": 217, "legendY": 16, "title": null, "labelFontSize": 14.5, "rowPadding": 0.3, "labelExpr": "datum.label === 'E' ? 'Cu₂SnS₃ Exper.' : datum.label === 'M' ? 'M-Cu₂SnS₃' : datum.label === 'C' ? 'CuS' : datum.label === 'T' ? 'T-Cu₂SnS₃' : 'Peak sum'"}},
    "detail": {"field": "k"},
    "strokeWidth": {"condition": {"test": "datum.s === 'M'", "value": 1.3}, "value": 2}
   }},
  {"data": {"name": "c"}, "transform": [{"filter": "datum.s === 'E'"}],
   "mark": {"type": "line", "interpolate": "monotone", "strokeWidth": 3.2},
   "encoding": {"color": {"field": "s", "type": "nominal", "scale": {"domain": ["E","M","C","T","P"], "range": ["#111111","#52b947","#f48120","#3b3c97","#e82a2a"]}, "legend": {"orient": "none", "legendX": 217, "legendY": 16, "title": null, "labelFontSize": 14.5, "rowPadding": 0.3, "labelExpr": "datum.label === 'E' ? 'Cu₂SnS₃ Exper.' : datum.label === 'M' ? 'M-Cu₂SnS₃' : datum.label === 'C' ? 'CuS' : datum.label === 'T' ? 'T-Cu₂SnS₃' : 'Peak sum'"}}}},
  {"data": {"name": "c"}, "transform": [{"filter": "datum.s === 'P'"}],
   "mark": {"type": "line", "interpolate": "monotone", "strokeWidth": 2.2},
   "encoding": {"color": {"field": "s", "type": "nominal", "scale": {"domain": ["E","M","C","T","P"], "range": ["#111111","#52b947","#f48120","#3b3c97","#e82a2a"]}, "legend": {"orient": "none", "legendX": 217, "legendY": 16, "title": null, "labelFontSize": 14.5, "rowPadding": 0.3, "labelExpr": "datum.label === 'E' ? 'Cu₂SnS₃ Exper.' : datum.label === 'M' ? 'M-Cu₂SnS₃' : datum.label === 'C' ? 'CuS' : datum.label === 'T' ? 'T-Cu₂SnS₃' : 'Peak sum'"}}}},
  {"data": {"values": [{"x": 203, "y": 128, "t": "(c)"}]},
   "mark": {"type": "text", "fontSize": 30, "align": "left", "baseline": "middle", "color": "#222"},
   "encoding": {"text": {"field": "t"}}},
  {"data": {"values": [{"x": 260.3, "y": 69, "t": "CuS"}, {"x": 473, "y": 51, "t": "CuS"}]},
   "mark": {"type": "text", "fontSize": 23, "fontWeight": "bold", "align": "center", "baseline": "middle", "color": "#111"},
   "encoding": {"text": {"field": "t"}}},
  {"data": {"values": [{"x": 262.2, "y": 58, "y2": 28.5}, {"x": 475, "y": 41, "y2": 18.5}]},
   "mark": {"type": "rule", "strokeWidth": 1.2, "color": "#111"},
   "encoding": {"y2": {"field": "y2"}}},
  {"data": {"values": [{"x": 262.2, "y": 28.5}, {"x": 475, "y": 18.5}]},
   "mark": {"type": "point", "shape": "triangle-down", "filled": true, "fill": "white", "stroke": "#111", "strokeWidth": 1.2, "size": 45, "opacity": 1},
   "encoding": {}}
 ]
},
{
 "width": 365, "height": 181,
 "encoding": {
  "x": {"field": "x", "type": "quantitative", "scale": {"domain": [200, 500], "nice": false, "zero": false}, "axis": {"values": [200,225,250,275,300,325,350,375,400,425,450,475,500], "labels": true, "labelExpr": "datum.value % 50 === 0 ? datum.label : ''", "labelFontSize": 18.5, "labelFlush": false, "labelPadding": 10, "title": "Raman shift (cm⁻¹)", "titleFontSize": 23, "titleX": 166, "titleY": 56.5, "titleAlign": "center", "titleBaseline": "alphabetic", "tickSize": {"condition": {"test": "datum.value % 50 === 0", "value": 8}, "value": 5}}},
  "y": {"field": "y", "type": "quantitative", "scale": {"domain": [0, 181], "nice": false, "zero": false}, "axis": {"values": [2,30,59,87,115,145,174], "labels": false, "title": null, "tickSize": {"condition": {"test": "datum.value === 2 || datum.value === 59 || datum.value === 115 || datum.value === 174", "value": 7}, "value": 4}}}
 },
 "layer": [
  {"data": {"values": [{"x": 292.5, "y": 181, "y2": 42}, {"x": 300.3, "y": 181, "y2": 33}, {"x": 315, "y": 181, "y2": 170}, {"x": 339.5, "y": 181, "y2": 44}, {"x": 351.5, "y": 181, "y2": 54}, {"x": 262.2, "y": 181, "y2": 58}, {"x": 475.5, "y": 181, "y2": 37}]},
   "mark": {"type": "rule", "strokeDash": [2, 2], "strokeWidth": 1.4, "color": "#111"},
   "encoding": {"y2": {"field": "y2"}}},
  {"data": {"name": "d"}, "transform": [{"filter": "datum.s !== 'E' && datum.s !== 'P'"}],
   "mark": {"type": "line", "interpolate": "monotone"},
   "encoding": {
    "color": {"field": "s", "type": "nominal", "scale": {"domain": ["E","M","C","T","P"], "range": ["#111111","#52b947","#f48120","#3b3c97","#e82a2a"]}, "legend": {"orient": "none", "legendX": 232, "legendY": 15.5, "title": null, "labelExpr": "datum.label === 'E' ? 'CTS Exper.' : datum.label === 'M' ? 'M-CTS' : datum.label === 'C' ? 'CuS' : datum.label === 'T' ? 'T-Cu₂SnS₃' : 'Peak sum'"}},
    "detail": {"field": "k"},
    "strokeWidth": {"condition": {"test": "datum.s === 'M'", "value": 1.3}, "value": 2}
   }},
  {"data": {"name": "d"}, "transform": [{"filter": "datum.s === 'E'"}],
   "mark": {"type": "line", "interpolate": "monotone", "strokeWidth": 3.2},
   "encoding": {"color": {"field": "s", "type": "nominal", "scale": {"domain": ["E","M","C","T","P"], "range": ["#111111","#52b947","#f48120","#3b3c97","#e82a2a"]}, "legend": {"orient": "none", "legendX": 232, "legendY": 15.5, "title": null, "labelExpr": "datum.label === 'E' ? 'CTS Exper.' : datum.label === 'M' ? 'M-CTS' : datum.label === 'C' ? 'CuS' : datum.label === 'T' ? 'T-Cu₂SnS₃' : 'Peak sum'"}}}},
  {"data": {"name": "d"}, "transform": [{"filter": "datum.s === 'P'"}],
   "mark": {"type": "line", "interpolate": "monotone", "strokeWidth": 2.2},
   "encoding": {"color": {"field": "s", "type": "nominal", "scale": {"domain": ["E","M","C","T","P"], "range": ["#111111","#52b947","#f48120","#3b3c97","#e82a2a"]}, "legend": {"orient": "none", "legendX": 232, "legendY": 15.5, "title": null, "labelExpr": "datum.label === 'E' ? 'CTS Exper.' : datum.label === 'M' ? 'M-CTS' : datum.label === 'C' ? 'CuS' : datum.label === 'T' ? 'T-Cu₂SnS₃' : 'Peak sum'"}}}},
  {"data": {"values": [{"x": 203, "y": 131, "t": "(d)"}]},
   "mark": {"type": "text", "fontSize": 30, "align": "left", "baseline": "middle", "color": "#222"},
   "encoding": {"text": {"field": "t"}}},
  {"data": {"values": [{"x": 260.8, "y": 82.7, "t": "CuS"}, {"x": 475, "y": 64.7, "t": "CuS"}]},
   "mark": {"type": "text", "fontSize": 23, "fontWeight": "bold", "align": "center", "baseline": "middle", "color": "#111"},
   "encoding": {"text": {"field": "t"}}},
  {"data": {"values": [{"x": 260.8, "y": 63.7, "t": "(264 cm⁻¹)"}, {"x": 475, "y": 44.7, "t": "(475 cm⁻¹)"}]},
   "mark": {"type": "text", "fontSize": 12, "align": "center", "baseline": "middle", "color": "#444"},
   "encoding": {"text": {"field": "t"}}},
  {"data": {"values": [{"x": 262.2, "y": 58.7, "y2": 37}, {"x": 475.5, "y": 37, "y2": 20}]},
   "mark": {"type": "rule", "strokeWidth": 1.2, "color": "#111"},
   "encoding": {"y2": {"field": "y2"}}},
  {"data": {"values": [{"x": 262.2, "y": 37}, {"x": 475.5, "y": 20}]},
   "mark": {"type": "point", "shape": "triangle-down", "filled": true, "fill": "white", "stroke": "#111", "strokeWidth": 1.2, "size": 45, "opacity": 1},
   "encoding": {}}
 ]
}
],
"resolve": {"scale": {"y": "independent", "color": "independent"}, "legend": {"color": "independent"}}
}
